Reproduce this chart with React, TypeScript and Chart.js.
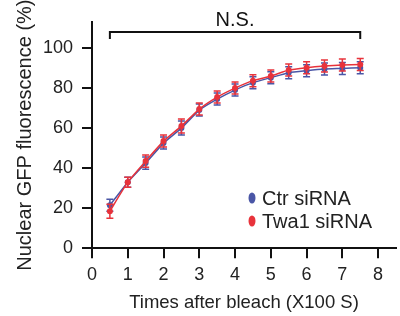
import React, { useEffect, useRef } from 'react';
import { Chart, registerables } from 'chart.js';

Chart.register(...registerables);

const times = [0.5, 1, 1.5, 2, 2.5, 3, 3.5, 4, 4.5, 5, 5.5, 6, 6.5, 7, 7.5];
const ctrValues = [21.5, 33, 42.5, 52.5, 60, 69, 74.5, 79, 82.7, 85.2, 87.7, 88.7, 89.5, 89.8, 90.2];
const twa1Values = [18.5, 33, 43.5, 53.5, 61, 69.5, 75.5, 80, 83.7, 86, 89, 90.2, 91, 91.5, 91.8];
const ctrErrors = [3, 2.5, 3, 3, 3.5, 3, 3, 3, 3, 3, 3, 3, 3, 3, 3];
const twa1Errors = [3.5, 2.5, 3, 3, 3.5, 3, 3, 3, 3, 3, 3, 3, 3, 3, 3];
const yTicks = [0, 20, 40, 60, 80, 100];
const xTicks = [0, 1, 2, 3, 4, 5, 6, 7, 8];
const seriesLabels = ['Ctr siRNA', 'Twa1 siRNA'];
const sigLabel = 'N.S.';
const sigRange = [0.5, 7.5];
const sigLevel = 108;
const xTitle = 'Times after bleach (X100 S)';
const yTitle = 'Nuclear GFP fluorescence (%)';

const BLUE = '#4a56a6';
const RED = '#e8333b';
const FONT = "'Liberation Sans', Arial, sans-serif";

const errorsByDataset = [ctrErrors, twa1Errors];

const errorBarPlugin = {
  id: 'errorBars',
  afterDatasetDraw(chart: any, args: any) {
    const ds = chart.data.datasets[args.index];
    const errs = errorsByDataset[ds.errIndex];
    const ctx = chart.ctx;
    const ys = chart.scales.y;
    ctx.save();
    ctx.strokeStyle = ds.borderColor;
    ctx.lineWidth = 1.5;
    args.meta.data.forEach((pt: any, i: number) => {
      const v = ds.data[i].y;
      const top = ys.getPixelForValue(v + errs[i]);
      const bot = ys.getPixelForValue(v - errs[i]);
      const x = pt.x;
      ctx.beginPath();
      ctx.moveTo(x, top);
      ctx.lineTo(x, bot);
      ctx.moveTo(x - 3.5, top);
      ctx.lineTo(x + 3.5, top);
      ctx.moveTo(x - 3.5, bot);
      ctx.lineTo(x + 3.5, bot);
      ctx.stroke();
    });
    ctx.restore();
  },
};

const annotPlugin = {
  id: 'annot',
  afterDraw(chart: any) {
    const ctx = chart.ctx;
    const xs = chart.scales.x;
    const ys = chart.scales.y;
    const ca = chart.chartArea;
    ctx.save();
    // significance bracket
    const x1 = xs.getPixelForValue(sigRange[0]);
    const x2 = xs.getPixelForValue(sigRange[1]);
    const yb = ys.getPixelForValue(sigLevel);
    const yt = ys.getPixelForValue(sigLevel - 3.5);
    ctx.strokeStyle = '#111';
    ctx.lineWidth = 2;
    ctx.beginPath();
    ctx.moveTo(x1, yt);
    ctx.lineTo(x1, yb);
    ctx.lineTo(x2, yb);
    ctx.lineTo(x2, yt);
    ctx.stroke();
    ctx.fillStyle = '#111';
    ctx.font = `20px ${FONT}`;
    ctx.textAlign = 'center';
    ctx.textBaseline = 'middle';
    ctx.fillText(sigLabel, (x1 + x2) / 2, ys.getPixelForValue(sigLevel + 6));
    // legend
    const colors = [BLUE, RED];
    seriesLabels.forEach((lab, i) => {
      const cx = ca.left + 160;
      const cy = ca.top + 176 + i * 23;
      ctx.fillStyle = colors[i];
      ctx.beginPath();
      ctx.ellipse(cx, cy, 3.5, 5.5, 0, 0, Math.PI * 2);
      ctx.fill();
      ctx.fillStyle = '#222';
      ctx.textAlign = 'left';
      ctx.fillText(lab, cx + 10, cy + 1);
    });
    ctx.restore();
  },
};

export default function App() {
  const ref = useRef<HTMLCanvasElement | null>(null);
  useEffect(() => {
    if (!ref.current) return;
    const chart = new Chart(ref.current, {
      type: 'line',
      data: {
        datasets: [
          {
            label: seriesLabels[0],
            data: times.map((t, i) => ({ x: t, y: ctrValues[i] })),
            borderColor: BLUE,
            backgroundColor: BLUE,
            borderWidth: 1.5,
            pointRadius: 3,
            pointBorderWidth: 0,
            order: 2,
            errIndex: 0,
          } as any,
          {
            label: seriesLabels[1],
            data: times.map((t, i) => ({ x: t, y: twa1Values[i] })),
            borderColor: RED,
            backgroundColor: RED,
            borderWidth: 1.5,
            pointRadius: 3,
            pointBorderWidth: 0,
            order: 1,
            errIndex: 1,
          } as any,
        ],
      },
      options: {
        animation: false,
        responsive: true,
        maintainAspectRatio: false,
        layout: { padding: { left: 4, top: 22, right: 2, bottom: 1 } },
        plugins: { legend: { display: false }, tooltip: { enabled: false } },
        elements: { line: { tension: 0.15 } },
        scales: {
          x: {
            type: 'linear',
            min: 0,
            max: 8.5,
            afterBuildTicks: (axis: any) => {
              axis.ticks = xTicks.map((v) => ({ value: v }));
            },
            ticks: { color: '#222', font: { family: FONT, size: 18 }, padding: 6 },
            grid: { display: true, drawOnChartArea: false, drawTicks: true, tickLength: 10, color: '#111', lineWidth: 2 },
            border: { display: true, color: '#111', width: 2 },
            title: { display: true, text: xTitle, color: '#222', font: { family: FONT, size: 18.5 }, padding: { top: 0, bottom: 1 } },
          },
          y: {
            type: 'linear',
            min: 0,
            max: 113,
            afterBuildTicks: (axis: any) => {
              axis.ticks = yTicks.map((v) => ({ value: v }));
            },
            afterFit: (scale: any) => {
              scale.width = 88;
            },
            ticks: { color: '#222', font: { family: FONT, size: 18 }, padding: 9 },
            grid: { display: true, drawOnChartArea: false, drawTicks: true, tickLength: 10, color: '#111', lineWidth: 2 },
            border: { display: true, color: '#111', width: 2 },
            title: { display: true, text: yTitle, color: '#222', font: { family: FONT, size: 20 }, padding: { top: 9, bottom: 4 } },
          },
        },
      },
      plugins: [errorBarPlugin, annotPlugin],
    });
    return () => chart.destroy();
  }, []);
  return (
    <div style={{ position: 'fixed', left: 0, top: 0, width: 400, height: 316, background: '#fff' }}>
      <canvas ref={ref} />
    </div>
  );
}
